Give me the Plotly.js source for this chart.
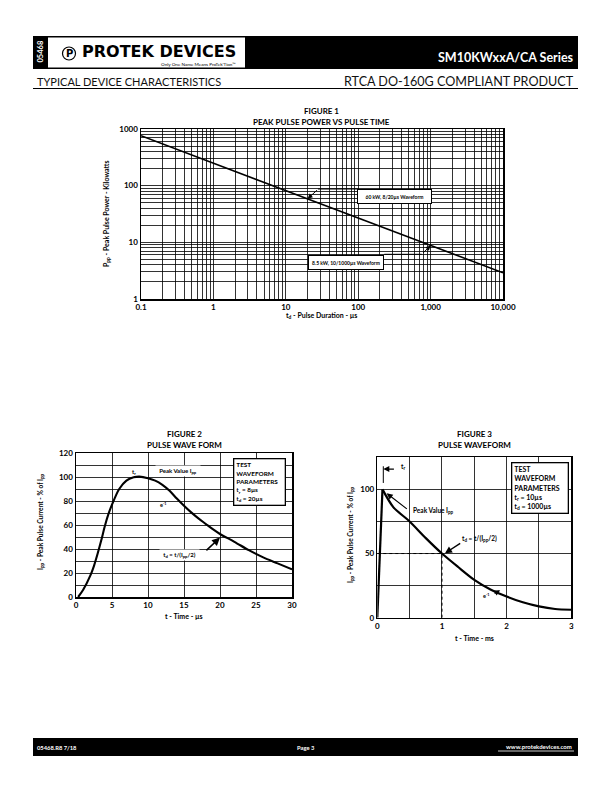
<!DOCTYPE html>
<html>
<head>
<meta charset="utf-8">
<script src="https://cdn.plot.ly/plotly-3.0.1.min.js"></script>
<style>html,body{margin:0;padding:0;background:#fff;}#chart{width:612px;height:792px;}</style>
</head>
<body>
<div id="chart"></div>
<script>
// ---------- DATA ----------
// Figure 1: Peak pulse power vs pulse time
const fig1Time = [0.1, 1, 10, 100, 1000, 10000];          // µs
const fig1Power = [760, 250, 82, 27, 8.8, 2.9];            // kW
const fig1TickVals = [0.1, 1, 10, 100, 1000, 10000];
const fig1TickText = ['0.1', '1', '10', '100', '1,000', '10,000'];
const fig1YTickVals = [1, 10, 100, 1000];
const fig1YTickText = ['1', '10', '100', '1000'];

// Figure 2: 8/20 µs pulse wave form
const fig2Time = [0.3, 1, 2, 2.5, 3, 3.5, 4, 4.5, 5, 6, 7, 8, 8.8, 10, 11, 12, 13, 14, 15, 16, 17, 18, 19, 20, 22, 24, 26, 28, 30];
const fig2Current = [0, 6, 18, 26, 36, 47, 59, 69, 77, 90, 97, 99.7, 100.3, 99, 97, 93.5, 88.5, 82, 76, 70.5, 65.5, 61, 56.5, 52.5, 46, 39, 33, 28, 23];
const fig2XTicks = [0, 5, 10, 15, 20, 25, 30];
const fig2YTicks = [0, 20, 40, 60, 80, 100, 120];

// Figure 3: 10/1000 µs pulse waveform
const fig3Time = [0, 0.08, 0.25, 0.5, 0.75, 1, 1.25, 1.5, 1.75, 2, 2.25, 2.5, 2.75, 3]; // ms
const fig3Current = [0, 100, 86, 75, 62, 50, 39.5, 29.5, 22, 16.5, 12, 8.8, 6.8, 6.2];
const fig3XTicks = [0, 1, 2, 3];
const fig3YTicks = [0, 50, 100];

// ---------- helpers ----------
const W = 612, H = 792;
const FONT = 'Lato, "Open Sans", "Liberation Sans", sans-serif';
const px = v => v / W;
const py = v => 1 - v / H;

function logInterp(xs, ys, x) {
  const lx = Math.log10(x);
  for (let i = 0; i < xs.length - 1; i++) {
    const a = Math.log10(xs[i]), b = Math.log10(xs[i + 1]);
    if (lx >= a && lx <= b) {
      const t = (lx - a) / (b - a);
      return Math.pow(10, Math.log10(ys[i]) + t * (Math.log10(ys[i + 1]) - Math.log10(ys[i])));
    }
  }
  return ys[ys.length - 1];
}

// grid values for log axes (2..9 per decade)
function logMinor(d0, d1) {
  const v = [];
  for (let d = d0; d < d1; d++) for (let m = 2; m < 10; m++) v.push(m * Math.pow(10, d));
  return v;
}
function stepGrid(a, b, s) { const v = []; for (let x = a; x <= b + 1e-9; x += s) v.push(+x.toFixed(6)); return v; }

function axisBase(extra, minorVals) {
  return Object.assign({
    showline: true, mirror: true, linecolor: '#000', linewidth: 1.5,
    showgrid: true, gridcolor: '#000', gridwidth: 0.8, zeroline: false,
    ticks: '', tickmode: 'array', fixedrange: true,
    tickfont: {family: FONT, size: 8, color: '#000', weight: 'bold'},
    minor: {tickmode: 'array', tickvals: minorVals, showgrid: true, gridcolor: '#000', gridwidth: 0.8, ticks: ''}
  }, extra);
}

const traces = [
  {x: fig1Time, y: fig1Power, xaxis: 'x', yaxis: 'y', mode: 'lines', line: {color: '#000', width: 1.6}, hoverinfo: 'skip'},
  {x: fig2Time, y: fig2Current, xaxis: 'x2', yaxis: 'y2', mode: 'lines', line: {color: '#000', width: 2.1, shape: 'spline', smoothing: 0.8}, hoverinfo: 'skip'},
  {x: fig3Time.slice(0, 2), y: fig3Current.slice(0, 2), xaxis: 'x3', yaxis: 'y3', mode: 'lines', line: {color: '#000', width: 2.2}, hoverinfo: 'skip'},
  {x: fig3Time.slice(1), y: fig3Current.slice(1), xaxis: 'x3', yaxis: 'y3', mode: 'lines', line: {color: '#000', width: 2.2, shape: 'spline', smoothing: 0.8}, hoverinfo: 'skip'}
];

const txt = (text, x, y, size, opts) => Object.assign({
  text: text, x: x, y: y, xref: 'paper', yref: 'paper', showarrow: false,
  font: {family: FONT, size: size, color: '#000'}, xanchor: 'center', yanchor: 'middle'
}, opts || {});

const bold = s => '<b>' + s + '</b>';

// Figure 1 arrow head points
const f1a = {x: 20, y: logInterp(fig1Time, fig1Power, 20)};
const f1b = {x: 1000, y: logInterp(fig1Time, fig1Power, 1000)};

const annotations = [
  // header
  txt(bold('05468'), px(40.5), py(52), 7.5, {textangle: -90, font: {family: FONT, size: 7.5, color: '#fff'}}),
  txt(bold('P'), px(69), py(53.5), 10, {font: {family: '"DejaVu Sans", sans-serif', size: 10, color: '#000'}}),
  txt(bold('PROTEK DEVICES'), px(80), py(52), 16, {xanchor: 'left', font: {family: '"DejaVu Sans", "Liberation Sans", sans-serif', size: 16, color: '#000'}}),
  txt('Only One Name Means ProTek’Tion™', px(238), py(64), 4.6, {xanchor: 'right'}),
  txt('SM10KWxxA/CA Series', px(576), py(57), 12.5, {xanchor: 'right', font: {family: FONT, size: 12.5, color: '#fff', weight: 'bold'}}),
  txt('TYPICAL DEVICE CHARACTERISTICS', px(35), py(81), 11, {xanchor: 'left', font: {family: FONT, size: 11, color: '#111'}}),
  txt('RTCA DO-160G COMPLIANT PRODUCT', px(576), py(81), 12.6, {xanchor: 'right', font: {family: FONT, size: 12.6, color: '#111'}}),
  // footer
  txt(bold('05468.R8 7/18'), px(35), py(747), 5.8, {xanchor: 'left', font: {family: FONT, size: 5.8, color: '#fff'}}),
  txt(bold('Page 3'), px(306), py(747), 5.8, {font: {family: FONT, size: 5.8, color: '#fff'}}),
  txt(bold('www.protekdevices.com'), px(574), py(746.5), 6, {xanchor: 'right', font: {family: FONT, size: 6, color: '#fff'}}),

  // Figure 1 titles
  txt(bold('FIGURE 1'), px(321), py(111), 8),
  txt(bold('PEAK PULSE POWER VS PULSE TIME'), px(321), py(122), 8),
  txt(bold('t<sub>d</sub> - Pulse Duration - µs'), px(321), py(315), 7),
  txt(bold('P<sub>pp</sub> - Peak Pulse Power - Kilowatts'), px(106), py(214), 7, {textangle: -90}),
  // Figure 1 callouts
  {text: bold('60 kW, 8/20µs Waveform'), x: px(394.2), y: py(188.5), xref: 'paper', yref: 'paper', showarrow: false,
   font: {family: FONT, size: 5, color: '#000'}, bgcolor: '#fff', bordercolor: '#000', borderwidth: 1, width: 71, height: 11, borderpad: 1},
  {text: bold('8.5 kW, 10/1000µs Waveform'), x: px(346.3), y: py(255), xref: 'paper', yref: 'paper', showarrow: false,
   font: {family: FONT, size: 5, color: '#000'}, bgcolor: '#fff', bordercolor: '#000', borderwidth: 1, width: 72, height: 11, borderpad: 1},
  {text: '', x: Math.log10(f1a.x), y: Math.log10(f1a.y), xref: 'x', yref: 'y', showarrow: true, arrowhead: 2, arrowsize: 1, arrowwidth: 1, arrowcolor: '#000', ax: 11, ay: -10},
  {text: '', x: Math.log10(f1b.x), y: Math.log10(f1b.y), xref: 'x', yref: 'y', showarrow: true, arrowhead: 2, arrowsize: 1, arrowwidth: 1, arrowcolor: '#000', ax: -9, ay: 9},

  // Figure 2
  txt(bold('FIGURE 2'), px(184), py(434), 8),
  txt(bold('PULSE WAVE FORM'), px(184), py(445), 8),
  txt(bold('t - Time - µs'), px(184), py(616), 7),
  txt(bold('I<sub>pp</sub> - Peak Pulse Current - % of I<sub>pp</sub>'), px(40), py(522), 6.6, {textangle: -90}),
  {text: bold('t<sub>r</sub>'), x: 8, y: 104.5, xref: 'x2', yref: 'y2', showarrow: false, font: {family: FONT, size: 6, color: '#000'}},
  {text: bold('Peak Value I<sub>pp</sub>'), x: 14.2, y: 105, xref: 'x2', yref: 'y2', showarrow: false, font: {family: FONT, size: 6, color: '#000'}, bgcolor: '#fff', width: 42, borderpad: 1},
  {text: bold('e<sup>-1</sup>'), x: 12.1, y: 77, xref: 'x2', yref: 'y2', showarrow: false, font: {family: FONT, size: 5.5, color: '#000'}},
  {text: bold('t<sub>d</sub> = t/(I<sub>pp</sub>/2)'), x: 14.4, y: 35, xref: 'x2', yref: 'y2', showarrow: false, font: {family: FONT, size: 6, color: '#000'}, bgcolor: '#fff', width: 37, borderpad: 1},
  {text: '', x: 20, y: 49.5, xref: 'x2', yref: 'y2', ax: 17.9, ay: 37.7, axref: 'x2', ayref: 'y2', showarrow: true, arrowhead: 2, arrowsize: 1, arrowwidth: 1.6, arrowcolor: '#000'},
  {text: bold('TEST<br>WAVEFORM<br>PARAMETERS<br>t<sub>r</sub> = 8µs<br>t<sub>d</sub> = 20µs'), x: 21.8, y: 115.6, xref: 'x2', yref: 'y2', xanchor: 'left', yanchor: 'top', align: 'left', showarrow: false,
   font: {family: FONT, size: 6.4, color: '#000'}, bgcolor: '#fff', bordercolor: '#000', borderwidth: 1.3, width: 46, borderpad: 2},

  // Figure 3
  txt(bold('FIGURE 3'), px(474), py(434), 8),
  txt(bold('PULSE WAVEFORM'), px(474), py(445), 8),
  txt(bold('t - Time - ms'), px(474), py(638), 7),
  txt(bold('I<sub>pp</sub> - Peak Pulse Current - % of I<sub>pp</sub>'), px(350), py(535), 6.6, {textangle: -90}),
  {text: '', x: 0.093, y: 115.8, xref: 'x3', yref: 'y3', ax: 0.28, ay: 115.8, axref: 'x3', ayref: 'y3', showarrow: true, arrowhead: 2, arrowsize: 1, arrowwidth: 1.2, arrowcolor: '#000'},
  {text: bold('t<sub>r</sub>'), x: 0.34, y: 117.5, xref: 'x3', yref: 'y3', xanchor: 'left', showarrow: false, font: {family: FONT, size: 6.5, color: '#000'}},
  {text: '', x: 0.145, y: 96.9, xref: 'x3', yref: 'y3', ax: 0.48, ay: 83.9, axref: 'x3', ayref: 'y3', showarrow: true, arrowhead: 2, arrowsize: 1, arrowwidth: 1.2, arrowcolor: '#000'},
  {text: bold('Peak Value I<sub>pp</sub>'), x: 0.52, y: 83, xref: 'x3', yref: 'y3', xanchor: 'left', showarrow: false, font: {family: FONT, size: 6.5, color: '#000'}},
  {text: bold('t<sub>d</sub> = t/(I<sub>pp</sub>/2)'), x: 1.28, y: 62, xref: 'x3', yref: 'y3', xanchor: 'left', showarrow: false, font: {family: FONT, size: 6.5, color: '#000'}},
  {text: '', x: 1.047, y: 50.2, xref: 'x3', yref: 'y3', ax: 1.305, ay: 58.7, axref: 'x3', ayref: 'y3', showarrow: true, arrowhead: 2, arrowsize: 1, arrowwidth: 1.4, arrowcolor: '#000'},
  {text: bold('e<sup>-1</sup>'), x: 1.77, y: 17.5, xref: 'x3', yref: 'y3', xanchor: 'right', showarrow: false, font: {family: FONT, size: 5.5, color: '#000'}},
  {text: '', x: 1.9, y: 21.3, xref: 'x3', yref: 'y3', ax: 1.79, ay: 18.3, axref: 'x3', ayref: 'y3', showarrow: true, arrowhead: 2, arrowsize: 0.8, arrowwidth: 1.4, arrowcolor: '#000'},
  {text: bold('TEST<br>WAVEFORM<br>PARAMETERS<br>t<sub>r</sub> = 10µs<br>t<sub>d</sub> = 1000µs'), x: 2.07, y: 121.5, xref: 'x3', yref: 'y3', xanchor: 'left', yanchor: 'top', align: 'left', showarrow: false,
   font: {family: FONT, size: 7, color: '#000'}, bgcolor: '#fff', bordercolor: '#000', borderwidth: 1.3, width: 51, borderpad: 2}
];

const shapes = [
  // header bar
  {type: 'rect', xref: 'paper', yref: 'paper', x0: px(33), x1: px(578), y0: py(69), y1: py(36), fillcolor: '#000', line: {width: 0}, layer: 'below'},
  {type: 'rect', xref: 'paper', yref: 'paper', x0: px(48), x1: px(245), y0: py(67.5), y1: py(37.5), fillcolor: '#fff', line: {width: 0}, layer: 'below'},
  {type: 'circle', xref: 'paper', yref: 'paper', x0: px(62.5), x1: px(75.5), y0: py(60), y1: py(47), line: {color: '#000', width: 1.2}},
  {type: 'line', xref: 'paper', yref: 'paper', x0: px(33), x1: px(578), y0: py(88.5), y1: py(88.5), line: {color: '#000', width: 1}},
  // footer bar
  {type: 'rect', xref: 'paper', yref: 'paper', x0: px(33), x1: px(578), y0: py(756), y1: py(738), fillcolor: '#000', line: {width: 0}, layer: 'below'},
  {type: 'line', xref: 'paper', yref: 'paper', x0: px(498), x1: px(574), y0: py(751), y1: py(751), line: {color: '#fff', width: 0.8}},
  // Figure 1 callout leader lines
  {type: 'line', xref: 'paper', yref: 'paper', x0: px(318), x1: px(358.7), y0: py(189), y1: py(189), line: {color: '#000', width: 1}},
  {type: 'line', xref: 'paper', yref: 'paper', x0: px(384.3), x1: px(421.7), y0: py(254.3), y1: py(254.3), line: {color: '#000', width: 1}},
  // Figure 3 tr marker and 50% guides
  {type: 'line', xref: 'x3', yref: 'y3', x0: 0.093, x1: 0.093, y0: 105, y1: 118, line: {color: '#000', width: 1}},
  {type: 'line', xref: 'x3', yref: 'y3', x0: 0, x1: 1.0, y0: 50, y1: 50, line: {color: '#000', width: 1, dash: 'dot'}},
  {type: 'line', xref: 'x3', yref: 'y3', x0: 1.0, x1: 1.0, y0: 0, y1: 50, line: {color: '#000', width: 1, dash: 'dot'}}
];

const layout = {
  width: W, height: H, margin: {l: 0, r: 0, t: 0, b: 0},
  paper_bgcolor: '#fff', plot_bgcolor: '#fff', showlegend: false,
  font: {family: FONT, color: '#000'},
  xaxis: axisBase({type: 'log', range: [-1, 4], domain: [px(141), px(503)], anchor: 'y',
    tickvals: fig1TickVals, ticktext: fig1TickText}, logMinor(-1, 4)),
  yaxis: axisBase({type: 'log', range: [0, 3], domain: [py(299), py(129)], anchor: 'x',
    tickvals: fig1YTickVals, ticktext: fig1YTickText}, logMinor(0, 3)),
  xaxis2: axisBase({range: [0, 30], domain: [px(76), px(292)], anchor: 'y2',
    tickvals: fig2XTicks, ticktext: fig2XTicks.map(String)}, []),
  yaxis2: axisBase({range: [0, 120], domain: [py(597), py(453)], anchor: 'x2',
    tickvals: fig2YTicks, ticktext: fig2YTicks.map(String)}, stepGrid(10, 110, 20)),
  xaxis3: axisBase({range: [0, 3], domain: [px(377.3), px(571.3)], anchor: 'y3',
    tickvals: fig3XTicks, ticktext: fig3XTicks.map(String)}, stepGrid(0.5, 2.5, 1)),
  yaxis3: axisBase({range: [0, 125], domain: [py(617.7), py(457.3)], anchor: 'x3',
    tickvals: fig3YTicks, ticktext: fig3YTicks.map(String)}, [25, 75, 125]),
  annotations: annotations,
  shapes: shapes
};

Plotly.newPlot('chart', traces, layout, {staticPlot: true, displayModeBar: false});
</script>
</body>
</html>
